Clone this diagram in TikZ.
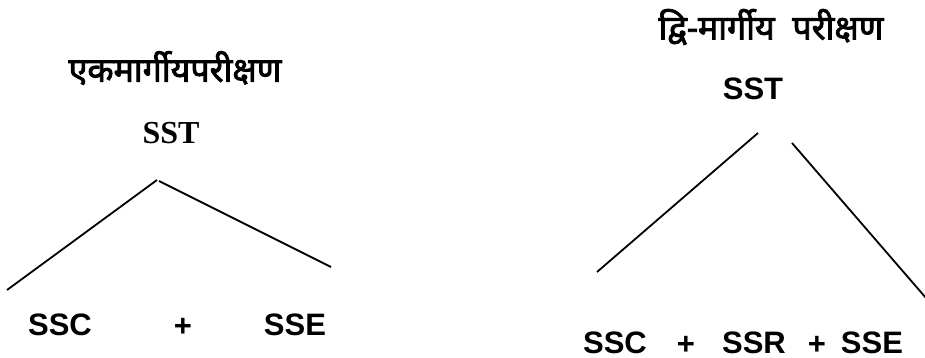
\documentclass[tikz,border=0pt]{standalone}
\usepackage{fontspec}
\setmainfont{Liberation Serif}
\setsansfont{Liberation Sans}
\newfontfamily\hindifont[Script=Devanagari, FakeBold=2.5]{Noto Sans}
\usetikzlibrary{positioning}

\begin{document}
\begin{tikzpicture}[
    x=0.5pt, y=-0.5pt,
    title/.style={font=\hindifont\fontsize{17}{19}\selectfont, inner sep=0pt},
    root/.style={font=\bfseries\fontsize{16}{18}\selectfont, inner sep=0pt},
    term/.style={font=\sffamily\bfseries\fontsize{15.5}{18}\selectfont, inner sep=0pt},
    branch/.style={line width=0.9pt}
]
  \useasboundingbox (0,0) rectangle (925,358);

  % one-way
  \node[title] (oneway) at (175,68) {एकमार्गीयपरीक्षण};
  \node[root] (sstL) at (171,133) {SST};
  \coordinate (apexL) at (157,180);
  \coordinate (apexL2) at (159,181);
  \coordinate (footL1) at (7,290);
  \coordinate (footL2) at (331,267);
  \node[term] (sscL) at (60,325) {SSC};
  \node[term] (plusL) at (183,327) {+};
  \node[term] (sseL) at (295,325) {SSE};
  \draw[branch] (footL1) -- (apexL);
  \draw[branch] (apexL2) -- (footL2);

  % two-way
  \node[title] (twoway) at (771,27) {द्वि-मार्गीय\ \ परीक्षण};
  \node[root, font=\sffamily\bfseries\fontsize{15.5}{18}\selectfont] (sstR) at (753,89) {SST};
  \coordinate (apexR1) at (758,133);
  \coordinate (apexR2) at (792,143);
  \coordinate (footR1) at (597,272);
  \coordinate (footR2) at (926,298);
  \node[term] (sscR) at (615,343) {SSC};
  \node[term] (plusR1) at (686,345) {+};
  \node[term] (ssrR) at (754,343) {SSR};
  \node[term] (plusR2) at (817,345) {+};
  \node[term] (sseR) at (872,343) {SSE};
  \draw[branch] (footR1) -- (apexR1);
  \draw[branch] (apexR2) -- (footR2);
\end{tikzpicture}
\end{document}
